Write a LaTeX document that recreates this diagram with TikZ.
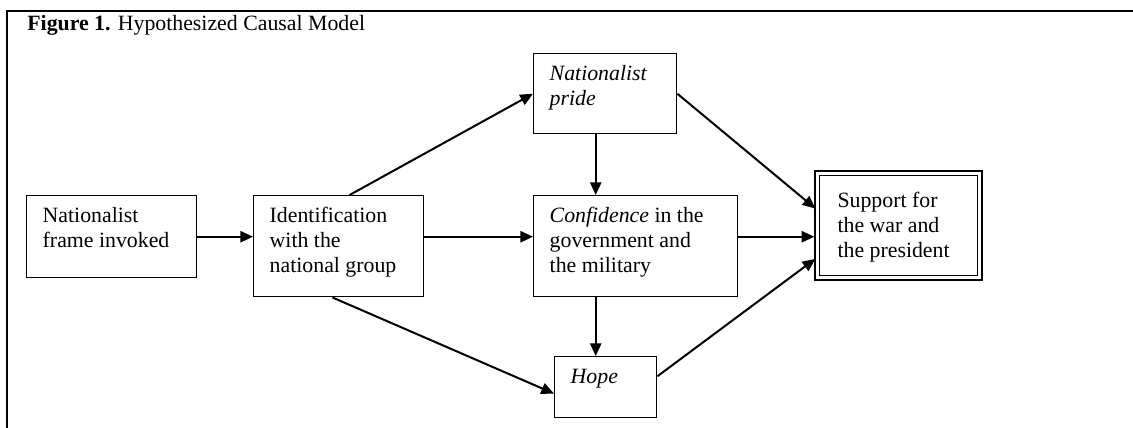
\documentclass[tikz,border=0pt]{standalone}
\usepackage{fontspec}
\setmainfont{Liberation Serif}
\usetikzlibrary{positioning,arrows.meta}

\newcommand{\celltext}[3]{\parbox[t][#2][t]{#1}{\raggedright\strut#3}}

\begin{document}
\begin{tikzpicture}[
  x=0.55pt, y=-0.55pt,
  font=\fontsize{12}{13.8}\selectfont,
  box/.style={draw, line width=0.8pt, anchor=north west, inner xsep=8.8pt, inner ysep=5.2pt},
  outcome/.style={draw, line width=0.6pt, anchor=north west, inner xsep=9.9pt, inner ysep=7.95pt},
  link/.style={-{Triangle[length=7pt,width=6.2pt]}, line width=1.1pt},
]
\useasboundingbox (0,0) rectangle (1133,428);
  % frame and caption
  \draw[line width=1.1pt] (7,428) -- (7,11) -- (1133,11);
  \node[anchor=base west, inner sep=0pt] (title) at (27,31) {\textbf{Figure 1.} Hypothesized Causal Model};

  % the boxes
  \node[box] (frame) at (26,195) {\celltext{75.9pt}{34.7pt}{Nationalist\\frame invoked}};
  \node[box] (ident) at (253,195) {\celltext{75.9pt}{45.15pt}{Identification\\with the\\national group}};
  \node[box] (pride) at (533,53) {\celltext{61pt}{33.6pt}{\textit{Nationalist}\\\textit{pride}}};
  \node[box] (conf) at (533,195) {\celltext{94.6pt}{45.15pt}{\textit{Confidence} in the\\government and\\the military}};
  \node[box] (hope) at (554,356) {\celltext{38.5pt}{23.15pt}{\textit{Hope}}};
  \node[outcome] (support) at (819,175) {\celltext{67.1pt}{39.1pt}{Support for\\the war and\\the president}};
  \draw[line width=1.2pt] ([shift={(-2.2pt,2.2pt)}]support.north west) rectangle ([shift={(2.2pt,-2.2pt)}]support.south east);

  % paths between them
  \draw[link] (frame.east) -- (frame.east -| ident.west);
  \draw[link] (ident.east |- frame.east) -- (conf.west |- frame.east);
  \draw[link] (ident.78) -- (pride.west);
  \draw[link] (ident.263) -- (hope.187);
  \draw[link] ([xshift=-5.2pt]pride.south) -- ([xshift=-5.2pt]pride.south |- conf.north);
  \draw[link] ([xshift=-5.2pt]pride.south |- conf.south) -- ([xshift=-5.2pt]pride.south |- hope.north);
  \draw[link, shorten >=2.6pt] (pride.east) -- (support.170);
  \draw[link, shorten >=2.6pt] (conf.east |- frame.east) -- (support.west |- frame.east);
  \draw[link, shorten >=2.6pt] (hope.12) -- (support.201);
\end{tikzpicture}
\end{document}
